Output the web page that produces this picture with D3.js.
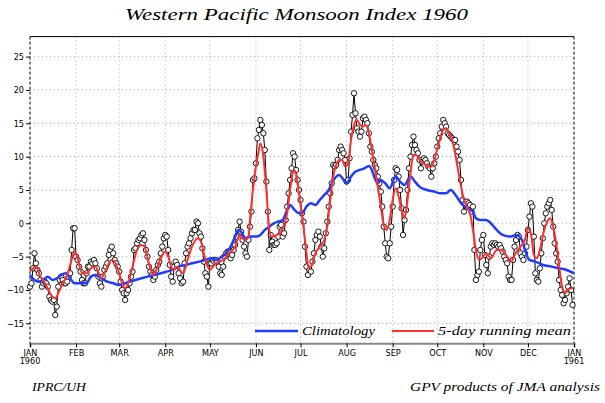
<!DOCTYPE html>
<html><head><meta charset="utf-8">
<script src="https://cdn.jsdelivr.net/npm/d3@7"></script>
<style>body{margin:0;background:#fff}</style></head>
<body>
<svg id="c" width="605" height="403"></svg>
<script>
// ---- DATA ----
const monthStarts = [0,31,60,91,121,152,182,213,244,274,305,335,366];
const monthLabels = ["JAN","FEB","MAR","APR","MAY","JUN","JUL","AUG","SEP","OCT","NOV","DEC","JAN"];
const yearLabels = ["1960","1961"];
const yTicks = [-15,-10,-5,0,5,10,15,20,25];

// daily index values, day 0 = Jan 1 1960
const daily = [
-9.5,-9,-6.75,-4.5,-6,-7,-7.5,-8.5,-9.5,-9,
-8.75,-9,-9.5,-11,-11.5,-11.75,-11.5,-13.75,-12.5,-9.5,
-8.5,-8,-8.5,-9,-9,-8.75,-8,-7.5,-4,-0.75,
-0.75,-5,-5.5,-6.5,-7.25,-8.5,-9,-9,-7.5,-6.5,
-6.5,-5.75,-6,-5.5,-6,-6.75,-8,-9,-9.5,-8,
-7,-6.5,-6,-4.75,-4,-3.5,-4.5,-5.5,-6,-6.5,
-7.25,-8.75,-10,-10.5,-11.5,-10.5,-10,-9,-8,-7.25,
-4,-3.75,-3,-2.5,-2.25,-1.75,-1.5,-2.5,-4,-5,
-6.5,-7.25,-7.75,-8.5,-8,-7,-6.25,-5.75,-4.5,-3.5,
-2.25,-1.75,-2,-4,-6.25,-8,-8.75,-6.5,-5.75,-6.25,
-7.5,-8.25,-9,-8.75,-6,-4.5,-3.5,-3,-2.25,-1.5,
-1,-1,0.25,0,-1.5,-2,-3.75,-5.75,-7.5,-8,
-9.5,-6,-6,-5.5,-5.75,-5.5,-5.75,-6.5,-7.5,-7.75,
-6.5,-5,-4.5,-4.25,-4.25,-5.25,-4.75,-4,-3.25,-2,
-1,0.25,-1.25,-2.5,-3.5,-4.5,-5,-2.5,-0.5,1.75,
6.5,6.75,9,12.75,14,15.5,14.75,13.5,11,6.25,
1.75,-4,-1.75,-2.75,-3.25,-3.25,-3,-2,-0.5,-0.25,
-2,-1.5,0.5,2.5,4.5,6.5,8.25,10.5,10,8,
6.5,5,3.5,1.5,0.25,-3.5,-6.5,-7.75,-7,-7.25,
-5.75,-4.5,-2.5,-1.75,-1.25,-2,-3.5,-5,-3.75,-1.5,
0.25,2.5,4.5,6,8.75,8.5,8.75,9.5,11,11.5,
11,10.5,9.5,6.25,6.5,9.75,13.75,16.25,19.5,16.5,
14.25,13.75,13,13.75,15.75,16,15.5,15,13.5,11.5,
10.75,9.5,8.75,8.25,7,6,4.75,2.5,-0.5,-3,
-5,-5.25,-3,-0.5,2.5,6.5,8.25,8,7,5,
2.25,-1.75,0.5,2,5,8.25,10,11.75,13,11.75,
11,10.5,9.5,8.25,9.25,9.75,9.5,9,8.5,8.25,
7,8.25,9,10,11.5,12.75,13.5,14.5,15.5,15,
14.5,13.5,13.25,13,12.75,12.5,12.5,11.5,10.75,9.5,
6.5,3.5,1.75,3,3.25,3,2.75,1.75,2.5,-4,
-8.5,-7.75,-7.25,-4,-2.5,-1.75,-4.75,-6.25,-7.5,-5,
-3.5,-3,-3.25,-3,-3.25,-3.5,-3.25,-3.75,-4.25,-5,
-5.5,-6,-8,-8.5,-8.5,-5.5,-3.5,-2.5,-1.75,-2,
-4.5,-5,-5.5,-4.5,-3.5,-1,1,3,2.5,-2,
-7.5,-8.5,-8.75,-6.75,-4.5,-2.25,0,1.5,2.5,3,
3.5,2,-0.5,-3,-4.5,-5.75,-8.5,-10,-10.75,-12,
-11.5,-10.5,-9.5,-8.25,-10,-12.25
];

// 5-day running mean
const runDays = [0,2,4,7,10,13,15,17,19,22,25,28,30,32,35,38,41,44,48,51,55,57,60,62,64,66,69,72,75,77,80,83,85,88,91,93,96,99,103,106,109,113,115,118,121,124,127,130,134,138,141,144,145,147,148,150,152,154,155,157,159,161,162,164,166,168,170,173,175,177,178,180,182,184,186,187,188,190,192,195,198,200,202,204,206,208,210,212,214,216,218,220,222,224,226,228,230,232,234,236,238,240,242,244,246,248,250,252,254,256,258,260,262,265,268,270,272,275,278,280,282,284,286,288,290,292,294,296,298,300,302,304,307,310,314,317,321,324,326,329,333,335,337,339,341,343,346,348,350,352,354,356,358,360,362,364,365];
const runVals = [-7.25,-6.75,-6.5,-8,-9,-10.25,-11,-11.25,-10.5,-9,-7.75,-5.5,-4.25,-5.25,-7.5,-7.5,-6.75,-6.5,-8.25,-7,-5.5,-5.75,-7.5,-9,-9.75,-9,-6.5,-4,-3.25,-3.5,-6,-7.75,-7,-5.25,-4.25,-5,-7,-6.5,-7.5,-5.5,-3.5,-2.25,-2.75,-5.5,-7,-6.25,-5.75,-5.5,-4.5,-3.5,-1.75,-2.5,-2.5,-2,0.5,5,8.5,11,12,10,5,-1,-2,-2,-1.75,-1.5,-0.75,1.5,5,7.75,8,6,2.75,-0.5,-4.5,-6.25,-6.75,-6,-4.5,-3.5,-2.5,-0.5,3.5,7,8.75,9.5,9.5,8.5,9,12.5,14.75,15.5,14.75,14.5,14.75,13.5,11,8.25,5.5,2.5,-0.25,-1,0.5,3.5,5.25,4,2,0.75,3.5,7.5,10.25,10.25,9.5,9,8.5,8.5,9.5,12,14,14.25,13.5,12.5,10.5,8,5.5,3.5,2.5,1.5,-1,-4,-5.5,-5.25,-4.5,-5.25,-4,-4,-5,-5.75,-4.75,-3.75,-2.5,-0.75,-1.5,-4.75,-5.25,-4,-1,0.25,0.75,-0.5,-3,-6.5,-9.5,-10.5,-10,-9.75,-9.75];

// climatology
const climDays = [0,3,6,9,12,15,18,21,24,27,30,34,38,41,44,48,52,56,60,64,67,71,75,79,84,88,92,96,100,105,109,114,118,122,126,129,132,135,138,140,142,145,148,152,155,158,161,164,167,170,173,175,178,181,183,186,189,192,195,198,201,203,206,208,211,213,216,219,222,225,228,230,232,234,236,239,242,246,249,252,256,259,262,267,272,276,280,283,287,290,294,298,300,303,307,310,314,318,323,327,331,333,336,340,345,351,356,361,366];
const climVals = [-7.75,-8.5,-8.75,-8.5,-8,-8.5,-8.25,-7.75,-7.5,-8.25,-9,-9,-9,-8,-7.75,-8.25,-8.75,-9,-9.25,-9,-8.75,-8.5,-8.25,-8,-7.75,-7.5,-7.25,-7,-6.5,-6.25,-6,-5.75,-5.5,-5.25,-5.5,-5,-4.5,-3.5,-2,-1,-1.25,-2.25,-2,-2,-1.75,-1,-0.5,0,0.25,0.5,2,2.75,2,1.5,1.5,2.5,3,2.75,3.5,4.25,5,6,7,7.25,6.5,6,7,7.75,8,8.25,8.6,8,6.75,6,6.5,6,5.25,7,6.25,5.75,7,6.25,5.5,5,4.75,4.5,4.5,5,4,3,2.25,1.75,0.75,0.5,0.5,0,-1,-1.75,-2,-1.75,-2.5,-4,-5.5,-5.75,-6.25,-6.5,-6.75,-7,-7.5];

// ---- CHART ----
const svg = d3.select("#c");
const L=30, R=574, T=36.6, B=343.3;
const x = d3.scaleLinear().domain([0,366]).range([L,R]);
const y = d3.scaleLinear().domain([-18,28]).range([B,T]);
const fmt = d => d<0 ? "\u2212"+Math.abs(d) : String(d);

// grid
const g = svg.append("g");
g.selectAll("line.hg").data(yTicks).join("line")
  .attr("x1",L).attr("x2",R).attr("y1",d=>y(d)).attr("y2",d=>y(d))
  .attr("stroke","#aaa").attr("stroke-width",1).attr("stroke-dasharray","1,3");
g.selectAll("line.vg").data(monthStarts.slice(1,-1)).join("line")
  .attr("x1",d=>x(d)).attr("x2",d=>x(d)).attr("y1",T).attr("y2",B)
  .attr("stroke","#aaa").attr("stroke-width",1).attr("stroke-dasharray","1,3");

// frame
svg.append("line").attr("x1",L).attr("x2",R).attr("y1",T).attr("y2",T).attr("stroke","#000").attr("stroke-width",1);
svg.append("line").attr("x1",L).attr("x2",L).attr("y1",T).attr("y2",B).attr("stroke","#000").attr("stroke-width",1).attr("stroke-dasharray","3,2");
svg.append("line").attr("x1",R).attr("x2",R).attr("y1",T).attr("y2",B).attr("stroke","#000").attr("stroke-width",1).attr("stroke-dasharray","3,2");

// y axis
const ya = svg.append("g").attr("transform",`translate(${L},0)`)
  .call(d3.axisLeft(y).tickValues(yTicks).tickSize(4).tickPadding(2).tickFormat(fmt));
ya.select(".domain").remove();
ya.selectAll("text").attr("font-family","'DejaVu Sans Condensed','DejaVu Sans',sans-serif").attr("font-size",9).attr("fill","#000");

// x axis
const xa = svg.append("g").attr("transform",`translate(0,${B})`)
  .call(d3.axisBottom(x).tickValues(monthStarts).tickSize(4).tickPadding(2).tickFormat((d,i)=>monthLabels[i]));
xa.select(".domain").attr("stroke","#888").attr("stroke-width",2);
xa.selectAll("text").attr("font-family","'DejaVu Sans Condensed','DejaVu Sans',sans-serif").attr("font-size",9).attr("fill","#000");
svg.selectAll("text.yr").data([0,366]).join("text").attr("class","yr")
  .attr("x",d=>x(d)).attr("y",B+21).attr("text-anchor","middle")
  .attr("font-family","'DejaVu Sans Condensed','DejaVu Sans',sans-serif").attr("font-size",9)
  .text((d,i)=>yearLabels[i]);

// daily series
const pts = daily.map((v,i)=>[i,v]);
svg.append("path").datum(pts)
  .attr("d",d3.line().x(d=>x(d[0])).y(d=>y(d[1])))
  .attr("fill","none").attr("stroke","#000").attr("stroke-width",1);
svg.append("g").selectAll("circle").data(pts).join("circle")
  .attr("cx",d=>x(d[0])).attr("cy",d=>y(d[1])).attr("r",2.7)
  .attr("fill","#fff").attr("stroke","#000").attr("stroke-width",0.9);

// climatology
svg.append("path").datum(climDays.map((d,i)=>[d,climVals[i]]))
  .attr("d",d3.line().x(d=>x(d[0])).y(d=>y(d[1])).curve(d3.curveMonotoneX))
  .attr("fill","none").attr("stroke","#1f3cff").attr("stroke-width",2.5);

// running mean
svg.append("path").datum(runDays.map((d,i)=>[d,runVals[i]]))
  .attr("d",d3.line().x(d=>x(d[0])).y(d=>y(d[1])).curve(d3.curveMonotoneX))
  .attr("fill","none").attr("stroke","#ff3030").attr("stroke-width",2);

// legend
const lf = "'Liberation Serif','DejaVu Serif',serif";
svg.append("line").attr("x1",255).attr("x2",298).attr("y1",331).attr("y2",331).attr("stroke","#1f3cff").attr("stroke-width",2.5);
svg.append("text").attr("x",302).attr("y",335).attr("font-family",lf).attr("font-style","italic").attr("font-size",12)
  .attr("textLength",73).attr("lengthAdjust","spacingAndGlyphs").text("Climatology");
svg.append("line").attr("x1",392).attr("x2",434).attr("y1",331).attr("y2",331).attr("stroke","#ff3030").attr("stroke-width",2);
svg.append("text").attr("x",438).attr("y",335).attr("font-family",lf).attr("font-style","italic").attr("font-size",12)
  .attr("textLength",133).attr("lengthAdjust","spacingAndGlyphs").text("5-day running mean");

// title & footers
svg.append("text").attr("x",125).attr("y",20).attr("font-family",lf).attr("font-style","italic").attr("font-size",16)
  .attr("textLength",343).attr("lengthAdjust","spacingAndGlyphs").text("Western Pacific Monsoon Index 1960");
svg.append("text").attr("x",32).attr("y",391).attr("font-family",lf).attr("font-style","italic").attr("font-size",12)
  .attr("textLength",54).attr("lengthAdjust","spacingAndGlyphs").text("IPRC/UH");
svg.append("text").attr("x",410).attr("y",391).attr("font-family",lf).attr("font-style","italic").attr("font-size",12)
  .attr("textLength",190).attr("lengthAdjust","spacingAndGlyphs").text("GPV products of JMA analysis");
</script>
</body></html>
